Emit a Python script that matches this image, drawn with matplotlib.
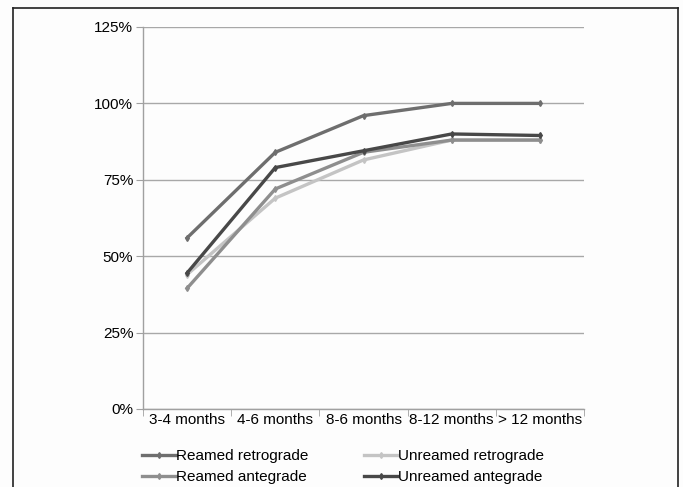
import numpy as np
import matplotlib.pyplot as plt
from matplotlib.lines import Line2D

plt.rcParams['font.family'] = ['Liberation Sans', 'DejaVu Sans']

categories = ['3-4 months', '4-6 months', '8-6 months', '8-12 months', '> 12 months']
reamed_retro = [56, 84, 96, 100, 100]
unreamed_retro = [44, 69, 81.5, 88, 88]
reamed_ante = [39.5, 72, 84, 88, 88]
unreamed_ante = [44.5, 79, 84.5, 90, 89.5]

series = [
    ('Reamed retrograde', reamed_retro, '#6e6e6e'),
    ('Unreamed retrograde', unreamed_retro, '#c4c4c4'),
    ('Reamed antegrade', reamed_ante, '#8e8e8e'),
    ('Unreamed antegrade', unreamed_ante, '#484848'),
]

fig = plt.figure(figsize=(6.83, 4.87), dpi=100)
fig.patch.set_facecolor('#fdfdfd')
ax = fig.add_axes([143/683, 1-409/487, (584-143)/683, (409-27)/487])
ax.set_facecolor('#fdfdfd')

x = np.arange(len(categories))
# draw order: light ones first
for name, vals, col in [series[1], series[2], series[0], series[3]]:
    ax.plot(x, vals, color=col, lw=2.4, marker='d', ms=3, mec=col, mfc=col, label=name, zorder=3)

ax.set_xlim(-0.5, len(categories) - 0.5)
ax.set_ylim(0, 125)
ax.set_yticks([0, 25, 50, 75, 100, 125])
ax.set_yticklabels(['0%', '25%', '50%', '75%', '100%', '125%'], fontsize=11)
ax.yaxis.grid(True, color='#a8a8a8', lw=1)
ax.set_axisbelow(True)

ax.set_xticks(x)
ax.set_xticklabels(categories, fontsize=11)
ax.tick_params(axis='x', length=0, pad=3)
ax.set_xticks(np.arange(-0.5, len(categories)), minor=True)
ax.tick_params(axis='x', which='minor', length=5, color='#a0a0a0')
ax.tick_params(axis='y', length=5, color='#a0a0a0', pad=2)

for s in ['top', 'right']:
    ax.spines[s].set_visible(False)
for s in ['left', 'bottom']:
    ax.spines[s].set_color('#a0a0a0')
    ax.spines[s].set_linewidth(1)

# legend fills column-major, so order for row-major reading
order = [0, 2, 1, 3]
handles = [Line2D([], [], color=series[i][2], lw=2.4, marker='d', ms=3) for i in order]
labels = [series[i][0] for i in order]
fig.legend(handles, labels, ncol=2, loc='upper left', bbox_to_anchor=(136/683, 1-443/487),
           frameon=False, fontsize=11, handlelength=2.2, handletextpad=0.05,
           columnspacing=3.6, labelspacing=0.45, borderaxespad=0)

# outer frame
for xs, ys in [([13/683, 13/683], [0, 1-8/487]),
               ([13/683, 678/683], [1-8/487, 1-8/487]),
               ([678/683, 678/683], [1-8/487, 0])]:
    fig.add_artist(Line2D(xs, ys, color='#222222', lw=1.2))

fig.savefig('out.png', dpi=100, facecolor=fig.get_facecolor())
